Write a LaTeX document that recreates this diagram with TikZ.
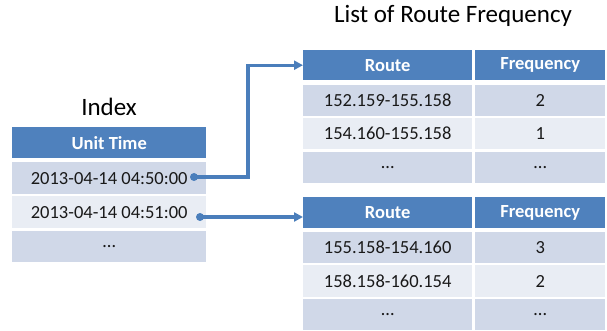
\documentclass[tikz,border=0pt]{standalone}
\usepackage{fontspec}
\setmainfont{Carlito}
\usetikzlibrary{arrows.meta}
\definecolor{hdr}{HTML}{4F81BD}
\definecolor{rowA}{HTML}{D0D8E8}
\definecolor{rowB}{HTML}{E9EDF4}
\definecolor{conncol}{HTML}{4A7EBB}
\newcommand\cellfnt{\fontsize{18.5}{20}\selectfont}
\newcommand\titlefnt{\fontsize{25}{28}\selectfont}
\tikzset{
  cell/.style={rectangle, inner sep=0pt, anchor=north west, text=black!90, font=\cellfnt},
  hcell/.style={cell, fill=hdr, text=white, font=\cellfnt\bfseries},
  acell/.style={cell, fill=rowA},
  bcell/.style={cell, fill=rowB},
  ttl/.style={font=\titlefnt, text=black, inner sep=0pt},
  dot/.style={circle, fill=conncol, inner sep=0pt, minimum size=8pt},
  conn/.style={draw=conncol, line width=3.2pt, -{Triangle[length=9pt,width=9pt]}}
}
\begin{document}
\begin{tikzpicture}[x=1pt,y=-1pt]
\useasboundingbox (0,0) rectangle (607,331);
% Titles
\node[ttl] (tIndex) at (109,107) {Index};
\node[ttl] (tList) at (453,16) {List of Route Frequency};
% Index table
\node[hcell, minimum width=194pt, minimum height=31pt] (ih) at (12,127) {Unit Time};
\node[acell, minimum width=194pt, minimum height=32pt] (i1) at (12,162) {2013-04-14 04:50:00};
\node[bcell, minimum width=194pt, minimum height=32pt] (i2) at (12,196) {2013-04-14 04:51:00};
\node[acell, minimum width=194pt, minimum height=31pt] (i3) at (12,231) {\ldots};
% Table 1
\node[hcell, minimum width=169pt, minimum height=30pt] (ah1) at (303,50) {Route};
\node[hcell, minimum width=130pt, minimum height=30pt] (ah2) at (475,50) {Frequency};
\node[acell, minimum width=169pt, minimum height=31pt] (a11) at (303,85) {152.159-155.158};
\node[acell, minimum width=130pt, minimum height=31pt] (a12) at (475,85) {2};
\node[bcell, minimum width=169pt, minimum height=31pt] (a21) at (303,118) {154.160-155.158};
\node[bcell, minimum width=130pt, minimum height=31pt] (a22) at (475,118) {1};
\node[acell, minimum width=169pt, minimum height=31pt] (a31) at (303,152) {\ldots};
\node[acell, minimum width=130pt, minimum height=31pt] (a32) at (475,152) {\ldots};
% Table 2
\node[hcell, minimum width=169pt, minimum height=31pt] (bh1) at (303,197) {Route};
\node[hcell, minimum width=130pt, minimum height=31pt] (bh2) at (475,197) {Frequency};
\node[acell, minimum width=169pt, minimum height=31pt] (b11) at (303,232) {155.158-154.160};
\node[acell, minimum width=130pt, minimum height=31pt] (b12) at (475,232) {3};
\node[bcell, minimum width=169pt, minimum height=32pt] (b21) at (303,265) {158.158-160.154};
\node[bcell, minimum width=130pt, minimum height=32pt] (b22) at (475,265) {2};
\node[acell, minimum width=169pt, minimum height=31pt] (b31) at (303,299) {\ldots};
\node[acell, minimum width=130pt, minimum height=31pt] (b32) at (475,299) {\ldots};
% Connectors
\node[dot] (d1) at (194,177) {};
\node[dot] (d2) at (200,217) {};
\coordinate (bend) at (248,0);
\draw[conn] (d1.center) -- (d1.center -| bend) |- (ah1.west);
\draw[conn] (d2.center) -- (d2.center -| ah1.west);
\end{tikzpicture}
\end{document}
